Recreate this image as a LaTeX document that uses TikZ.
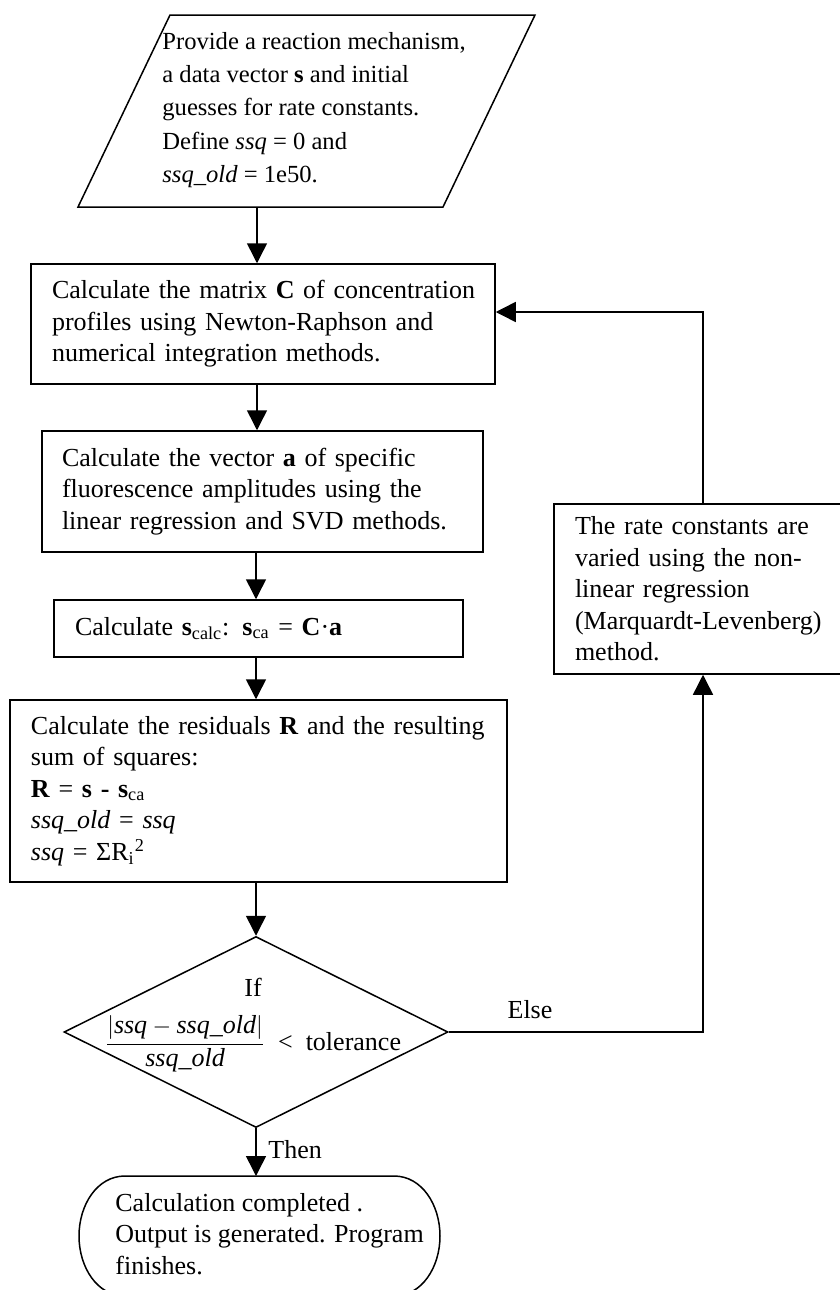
\documentclass[tikz,border=0pt]{standalone}
\usepackage{amsmath}
\usepackage{fontspec}
\setmainfont{Liberation Serif}
\usetikzlibrary{arrows.meta,shapes.geometric}
\newcommand{\fs}{\fontsize{13pt}{15.75pt}\selectfont}
\newcommand{\myl}[1]{\mbox{#1}}
\tikzset{
  every node/.style={font=\fs},
  box/.style={draw, line width=0.75pt, rectangle, align=left, inner ysep=0pt},
  arr/.style={line width=0.75pt, -{Triangle[length=10pt,width=10pt]}},
  ln/.style={line width=0.75pt, line join=miter},
  txt/.style={align=left, anchor=west, inner sep=0pt},
}
\begin{document}
\begin{tikzpicture}[x=0.5pt, y=-0.5pt]
\useasboundingbox (0,0) rectangle (840,1290);
\clip (0,0) rectangle (840,1290);
% input parallelogram
\draw[ln] (170,15) -- (535,15) -- (443,207) -- (78,207) -- cycle;
\node[txt, font=\fontsize{12.3pt}{16.6pt}\selectfont] (inp) at (162,110)
  {Provide a reaction mechanism,\\
   a data vector \textbf{s} and initial\\
   guesses for rate constants.\\
   Define \textit{ssq} = 0 and\\
   \textit{ssq\_old} = 1e50.};
\coordinate (inB) at (257,207);
% boxes
\node[box, minimum width=232pt, minimum height=60pt, inner xsep=10.5pt, text width=211pt] (b1) at (263,324)
  {\myl{Calculate the matrix \textbf{C} of concentration}\\
   \myl{profiles using Newton-Raphson and}\\
   \myl{numerical integration methods.}};
\node[box, minimum width=220.5pt, minimum height=60.5pt, inner xsep=10pt, text width=200.5pt] (b2) at (262.5,491.5)
  {\myl{Calculate the vector \textbf{a} of specific}\\
   \myl{fluorescence amplitudes using the}\\
   \myl{linear regression and SVD methods.}};
\node[box, minimum width=204.5pt, minimum height=28.5pt, inner xsep=10.5pt, text width=183.5pt] (b3) at (258.5,628.5)
  {\myl{Calculate \textbf{s}\textsubscript{calc}: \textbf{s}\textsubscript{ca} = \textbf{C}·\textbf{a}}};
\node[box, minimum width=248.5pt, minimum height=91pt, inner xsep=10.5pt, text width=227.5pt] (b4) at (258.5,791)
  {\myl{Calculate the residuals \textbf{R} and the resulting}\\
   \myl{sum of squares:}\\
   \myl{\textbf{R} = \textbf{s} \textbf{-} \textbf{s}\textsubscript{ca}}\\
   \myl{\textit{ssq\_old} = \textit{ssq}}\\
   \myl{\textit{ssq} = ΣR\textsubscript{i}\textsuperscript{2}}};
\node[box, minimum width=149pt, minimum height=85pt, inner xsep=10.5pt, text width=128pt] (b5) at (703,589)
  {\myl{The rate constants are}\\
   \myl{varied using the non-}\\
   \myl{linear regression}\\
   \myl{(Marquardt-Levenberg)}\\
   \myl{method.}};
% decision
\node[draw, line width=0.75pt, diamond, minimum width=192pt, minimum height=95.5pt, inner sep=0pt] (dia) at (256,1032) {};
\node[inner sep=1pt] (iftxt) at (253,987) {If};
\node[inner sep=1pt] (cond) at (253,1044)
  {$\dfrac{\lvert\text{\itshape ssq}-\text{\itshape ssq\_old}\rvert}{\text{\itshape ssq\_old}}$\ \ <\ \ tolerance};
\node (elsetxt) at (530,1010) {Else};
\node[txt] (thentxt) at (268,1150) {Then};
% terminal
\draw[ln] (125,1176) -- (394,1176) .. controls (422,1176) and (440,1205) .. (440,1236)
  .. controls (440,1267) and (422,1296) .. (394,1296) -- (125,1296)
  .. controls (97,1296) and (79,1267) .. (79,1236)
  .. controls (79,1205) and (97,1176) .. (125,1176) -- cycle;
\coordinate (termtop) at (256,1176);
\node[txt] (term) at (115,1234)
  {Calculation completed .\\
   Output is generated. Program\\
   finishes.};
% connectors
\draw[arr] (inB) -- (inB |- b1.north);
\draw[arr] (b1.south -| inB) -- (b2.north -| inB);
\draw[arr] (b2.south -| dia) -- (b3.north -| dia);
\draw[arr] (b3.south -| dia) -- (b4.north -| dia);
\draw[arr] (b4.south -| dia) -- (dia.north);
\draw[arr] (dia.south) -- (termtop);
\draw[arr] (dia.east) -- (dia.east -| b5.south) -- (b5.south);
\coordinate (b1in) at (b1.east |- 0,312);
\draw[arr] (b5.north) -- (b5.north |- b1in) -- (b1in);
\end{tikzpicture}
\end{document}
